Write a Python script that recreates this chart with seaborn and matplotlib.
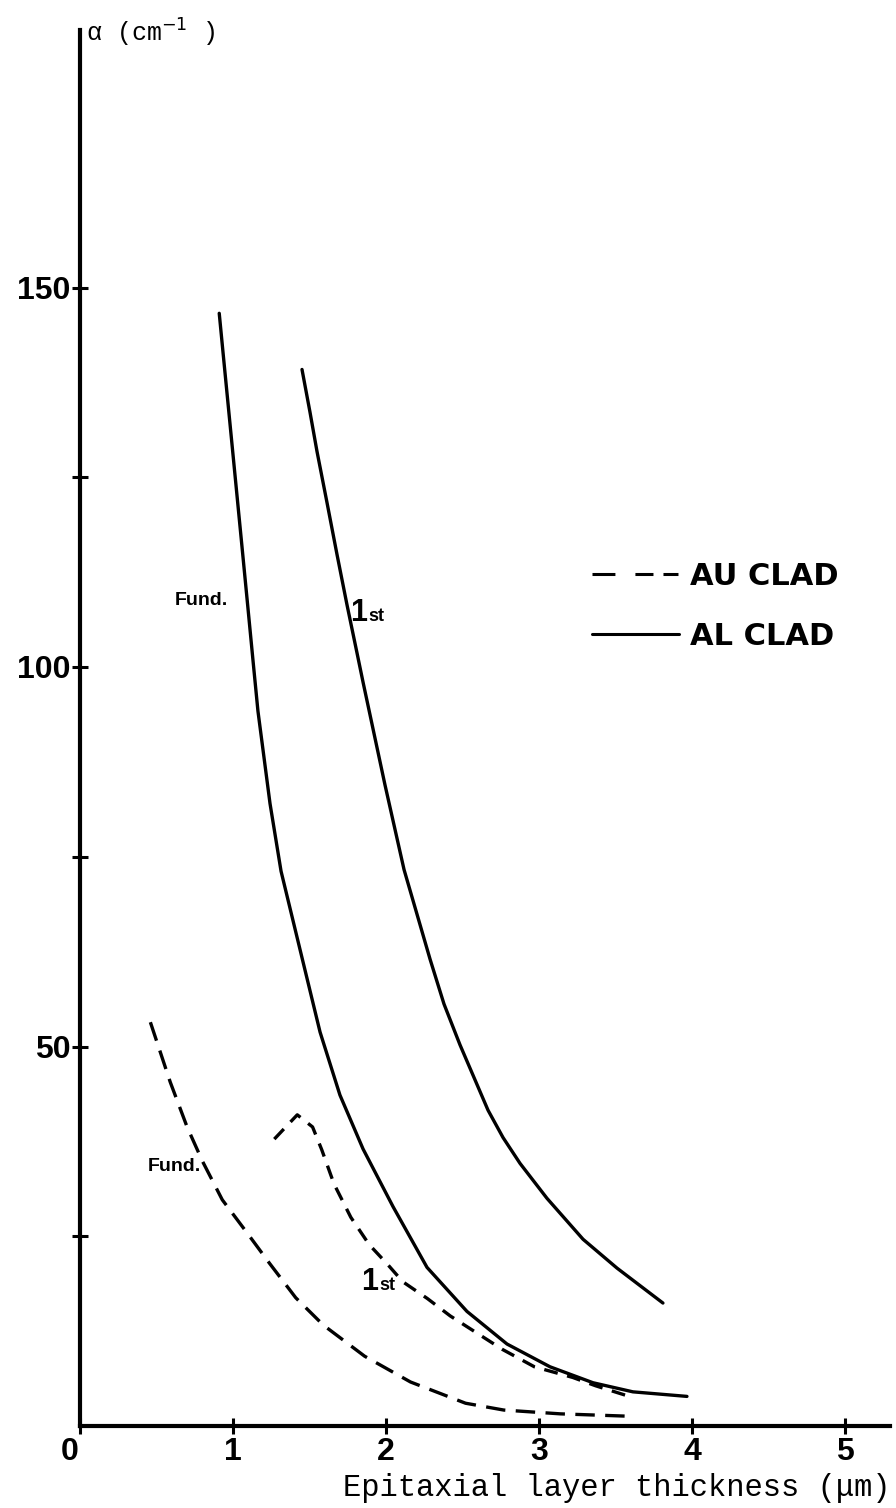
import matplotlib
matplotlib.use("Agg")
import matplotlib.pyplot as plt
import seaborn as sns
from matplotlib.lines import Line2D

# ---------------- data ----------------
al_fund_x = [0.91, 0.935, 0.967, 1.013, 1.059, 1.098, 1.131, 1.163, 1.242, 1.314, 1.451,
             1.569, 1.699, 1.850, 2.046, 2.268, 2.529, 2.791, 3.072, 3.353, 3.614, 3.967]
al_fund_y = [146.6, 141.4, 134.8, 125.3, 115.8, 107.7, 100.8, 94.2, 82.0, 73.1, 61.7,
             51.9, 43.6, 36.5, 28.9, 20.9, 15.1, 10.8, 7.8, 5.7, 4.5, 3.9]

al_first_x = [1.451, 1.503, 1.549, 1.614, 1.680, 1.745, 1.810, 1.850, 1.993, 2.118, 2.288,
              2.379, 2.484, 2.667, 2.765, 2.876, 3.052, 3.288, 3.510, 3.810]
al_first_y = [139.2, 133.6, 128.4, 121.7, 114.8, 108.2, 101.9, 98.0, 84.5, 73.3, 61.5,
              55.6, 50.2, 41.6, 38.0, 34.6, 30.0, 24.6, 20.8, 16.2]

au_fund_x = [0.46, 0.59, 0.70, 0.80, 0.93, 1.09, 1.24, 1.41, 1.59, 1.86, 2.16, 2.52,
             2.77, 3.14, 3.57]
au_fund_y = [53.2, 45.3, 39.4, 34.9, 29.8, 25.5, 21.4, 16.9, 13.3, 9.2, 5.8, 3.0,
             2.1, 1.6, 1.3]

au_first_x = [1.27, 1.42, 1.52, 1.58, 1.66, 1.77, 1.89, 2.01, 2.11, 2.27, 2.42, 2.59,
              2.76, 2.97, 3.22, 3.37, 3.59]
au_first_y = [37.8, 41.0, 39.4, 36.4, 31.9, 27.5, 23.9, 21.3, 19.0, 16.8, 14.5, 12.3,
              10.1, 7.8, 6.4, 5.3, 3.9]

x_ticks = [0, 1, 2, 3, 4, 5]
x_tick_labels = ["", "1", "2", "3", "4", "5"]
y_ticks = [50, 100, 150]
y_minor_ticks = [25, 75, 125]
legend_labels = ["AU CLAD", "AL CLAD"]

# ---------------- style ----------------
sns.set_theme(style="ticks")
plt.rcParams["font.family"] = ["Liberation Sans", "DejaVu Sans"]
plt.rcParams["lines.scale_dashes"] = False
plt.rcParams["axes.facecolor"] = "white"
plt.rcParams["figure.facecolor"] = "white"
plt.rcParams["text.color"] = "black"
plt.rcParams["axes.labelcolor"] = "black"
plt.rcParams["xtick.color"] = "black"
plt.rcParams["ytick.color"] = "black"
plt.rcParams["legend.labelcolor"] = "black"

W, H = 896, 1508
fig = plt.figure(figsize=(W / 100, H / 100), dpi=100)
PX_X, PX_Y = 153.0, 7.59          # pixels per data unit
x0_px, y0_px = 80, 1426           # data origin in pixels
ax = fig.add_axes([x0_px / W, (H - y0_px) / H, 810 / W, 1396 / H])
ax.set_xlim(0, 810 / PX_X)
ax.set_ylim(0, 1396 / PX_Y)

LW = 2.4
curves = [
    (al_fund_x, al_fund_y, "-"),
    (al_first_x, al_first_y, "-"),
    (au_fund_x, au_fund_y, (0, (14, 7.5))),
    (au_first_x, au_first_y, (0, (10, 7))),
]
for xs, ys, ls in curves:
    sns.lineplot(x=xs, y=ys, ax=ax, color="black", lw=LW, linestyle=ls,
                 sort=False, estimator=None, solid_capstyle="round",
                 solid_joinstyle="round", dash_capstyle="butt")

# ---------------- axes ----------------
sns.despine(ax=ax)
for s in ("left", "bottom"):
    ax.spines[s].set_linewidth(3)
    ax.spines[s].set_color("black")

TL = 12
ax.set_xticks(x_ticks)
ax.set_xticklabels(x_tick_labels)
ax.set_yticks(y_ticks)
ax.set_yticks(y_minor_ticks, minor=True)
ax.tick_params(axis="both", which="both", direction="inout", length=TL, width=2.2,
               colors="black")
ax.tick_params(axis="y", which="major", pad=1)
ax.tick_params(axis="x", which="major", pad=2)
for lab in ax.get_xticklabels() + ax.get_yticklabels():
    lab.set_fontweight("bold")
    lab.set_fontsize(23)
    lab.set_color("black")
ax.set_xlabel("")
ax.set_ylabel("")

# the "0" at the origin, placed left of the axis as in the original
ax.annotate("0", xy=(-0.07, 0), xycoords=("data", "axes fraction"),
            xytext=(0, -(TL / 2 + 2)), textcoords="offset points",
            ha="center", va="top", fontsize=23, fontweight="bold",
            color="black", annotation_clip=False)

# axis titles
fig.text(86 / W, 1 - 33 / H, "α (cm$^{-1}$ )", ha="left", va="center",
         fontsize=18, color="black", family=["Liberation Mono", "DejaVu Sans Mono"])
fig.text(890 / W, 1 - 1488 / H, "Epitaxial layer thickness (μm)", ha="right",
         va="center", fontsize=22, color="black",
         family=["Liberation Mono", "DejaVu Sans Mono"])

# curve labels
lab_kw = dict(color="black", fontweight="bold")
ax.text(0.62, 108.8, "Fund.", ha="left", va="center", fontsize=14, **lab_kw)
ax.text(1.765, 106.1, "1", ha="left", va="baseline", fontsize=22, **lab_kw)
ax.text(1.885, 106.1, "st", ha="left", va="baseline", fontsize=13, **lab_kw)
ax.text(0.44, 34.2, "Fund.", ha="left", va="center", fontsize=14, **lab_kw)
ax.text(1.837, 17.9, "1", ha="left", va="baseline", fontsize=22, **lab_kw)
ax.text(1.957, 17.9, "st", ha="left", va="baseline", fontsize=13, **lab_kw)

# legend
handles = [Line2D([], [], color="black", lw=2.2,
                  linestyle=(0, (16.5, 14.4, 13, 7.2, 10.8, 30))),
           Line2D([], [], color="black", lw=2.2)]
leg = ax.legend(handles, legend_labels, loc="upper left",
                bbox_to_anchor=(592 / W, 1 - 562 / H), bbox_transform=fig.transFigure,
                frameon=False, prop={"family": "DejaVu Sans", "weight": "bold", "size": 22},
                handlelength=2.85, handletextpad=0.35, labelspacing=1.0,
                borderpad=0, borderaxespad=0)
for t in leg.get_texts():
    t.set_color("black")

fig.savefig("out.png", dpi=100)
